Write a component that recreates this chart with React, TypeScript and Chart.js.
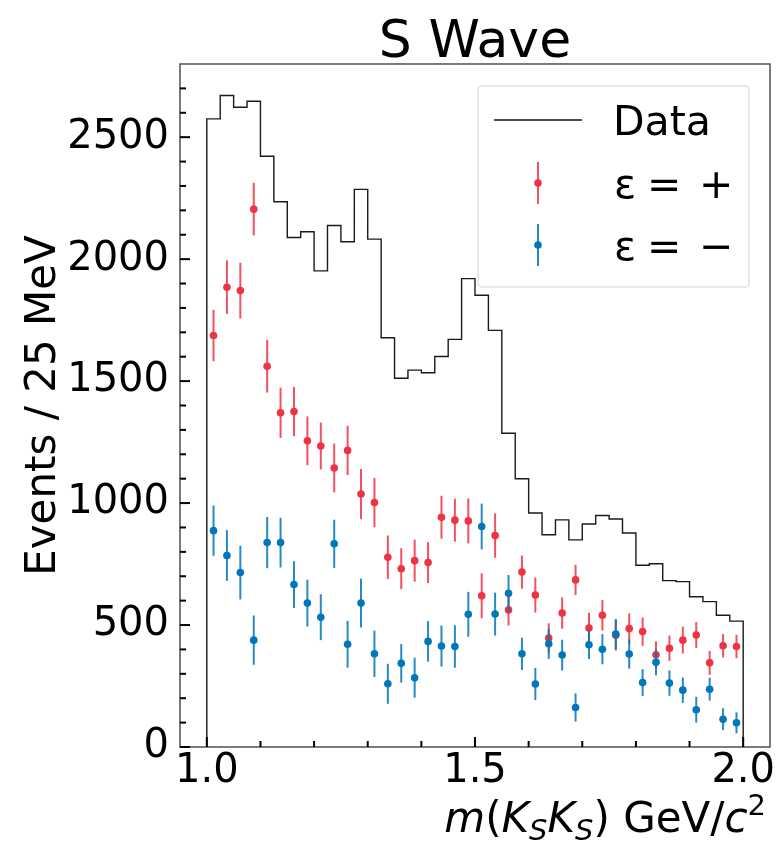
import React, { useEffect, useRef } from 'react';
import { Chart, registerables } from 'chart.js';

Chart.register(...registerables);

// ---------- data ----------
const binCenters = [
  1.0125, 1.0375, 1.0625, 1.0875, 1.1125, 1.1375, 1.1625, 1.1875, 1.2125, 1.2375,
  1.2625, 1.2875, 1.3125, 1.3375, 1.3625, 1.3875, 1.4125, 1.4375, 1.4625, 1.4875,
  1.5125, 1.5375, 1.5625, 1.5875, 1.6125, 1.6375, 1.6625, 1.6875, 1.7125, 1.7375,
  1.7625, 1.7875, 1.8125, 1.8375, 1.8625, 1.8875, 1.9125, 1.9375, 1.9625, 1.9875,
];
const binHalfWidth = 0.0125;

const dataCounts = [
  2575, 2671, 2623, 2647, 2422, 2235, 2089, 2112, 1952, 2138,
  2071, 2286, 2082, 1678, 1512, 1545, 1534, 1601, 1671, 1920,
  1852, 1708, 1286, 1100, 959, 870, 931, 849, 914, 949,
  935, 877, 745, 751, 682, 678, 616, 596, 540, 516,
];

const plusValues = [
  1687, 1885, 1871, 2205, 1561, 1370, 1375, 1255, 1234, 1144,
  1216, 1037, 1002, 778, 731, 764, 756, 942, 930, 927,
  620, 867, 562, 717, 623, 447, 549, 685, 488, 540,
  458, 486, 473, 378, 405, 438, 459, 345, 415, 412,
];
const plusErrors = [
  105, 110, 114, 108, 108, 103, 101, 100, 96, 100,
  101, 103, 101, 89, 84, 86, 84, 88, 88, 92,
  92, 91, 64, 68, 72, 60, 64, 62, 62, 63,
  63, 62, 58, 55, 52, 55, 53, 49, 48, 48,
];

const minusValues = [
  887, 785, 715, 438, 838, 838, 666, 590, 532, 833,
  421, 590, 382, 259, 343, 284, 433, 414, 412, 544,
  904, 545, 630, 382, 258, 423, 377, 162, 419, 401,
  463, 381, 264, 347, 262, 233, 153, 237, 114, 99,
];
const minusErrors = [
  103, 104, 110, 101, 105, 102, 96, 96, 94, 99,
  96, 100, 95, 82, 79, 82, 83, 84, 87, 92,
  94, 88, 75, 66, 66, 62, 63, 58, 58, 62,
  62, 60, 55, 53, 52, 52, 53, 47, 45, 43,
];

const xTickValues = [1.0, 1.5, 2.0];
const xMinorTickValues = [1.1, 1.2, 1.3, 1.4, 1.6, 1.7, 1.8, 1.9];
const yTickValues = [0, 500, 1000, 1500, 2000, 2500];
const yMinorTickValues = [
  100, 200, 300, 400, 600, 700, 800, 900, 1100, 1200, 1300, 1400,
  1600, 1700, 1800, 1900, 2100, 2200, 2300, 2400, 2600, 2700,
];

const titleText = 'S Wave';
const yLabelText = 'Events / 25 MeV';
const legendLabels = ['Data', 'ε', '=', '+', '−'];

const RED = '#EE3344';
const RED_BAR = 'rgba(238,51,68,0.85)';
const BLUE = '#0077BB';
const BLUE_BAR = 'rgba(0,119,187,0.85)';
const FONT = '"DejaVu Sans", sans-serif';

// ---------- plugin ----------
const decorPlugin = {
  id: 'decor',
  beforeDatasetDraw(chart: any, args: any) {
    const ds = chart.data.datasets[args.index];
    if (!ds.errors) return;
    const ctx = chart.ctx;
    const xs = chart.scales.x;
    const ys = chart.scales.y;
    ctx.save();
    ctx.strokeStyle = ds.errorColor;
    ctx.lineWidth = 2;
    ds.data.forEach((p: any, i: number) => {
      const px = xs.getPixelForValue(p.x);
      ctx.beginPath();
      ctx.moveTo(px, ys.getPixelForValue(p.y - ds.errors[i]));
      ctx.lineTo(px, ys.getPixelForValue(p.y + ds.errors[i]));
      ctx.stroke();
    });
    ctx.restore();
  },
  afterDraw(chart: any) {
    const ctx = chart.ctx;
    const { left, right, top, bottom } = chart.chartArea;
    const xs = chart.scales.x;
    const ys = chart.scales.y;
    ctx.save();

    // frame
    ctx.strokeStyle = 'rgba(0,0,0,0.65)';
    ctx.lineWidth = 1.6;
    ctx.strokeRect(left, top, right - left, bottom - top);

    // ticks (inward, left & bottom)
    ctx.strokeStyle = '#000';
    ctx.lineWidth = 2;
    const tick = (x1: number, y1: number, x2: number, y2: number) => {
      ctx.beginPath();
      ctx.moveTo(x1, y1);
      ctx.lineTo(x2, y2);
      ctx.stroke();
    };
    xTickValues.forEach((v) => {
      const px = xs.getPixelForValue(v);
      tick(px, bottom, px, bottom - 10);
    });
    xMinorTickValues.forEach((v) => {
      const px = xs.getPixelForValue(v);
      tick(px, bottom, px, bottom - 6);
    });
    yTickValues.forEach((v) => {
      const py = ys.getPixelForValue(v);
      tick(left, py, left + 10, py);
    });
    yMinorTickValues.forEach((v) => {
      const py = ys.getPixelForValue(v);
      tick(left, py, left + 6, py);
    });

    // title
    ctx.fillStyle = '#000';
    ctx.font = `52px ${FONT}`;
    ctx.textAlign = 'center';
    ctx.textBaseline = 'alphabetic';
    ctx.fillText(titleText, (left + right) / 2, 57);

    // y label
    ctx.save();
    ctx.translate(55, (top + bottom) / 2);
    ctx.rotate(-Math.PI / 2);
    ctx.font = `42px ${FONT}`;
    ctx.textAlign = 'center';
    ctx.fillText(yLabelText, 0, 0);
    ctx.restore();

    // x label with rich text
    const base = 42;
    const small = 29;
    const segs = [
      { t: 'm', it: true, s: base, dy: 0 },
      { t: '(', it: false, s: base, dy: 0 },
      { t: 'K', it: true, s: base, dy: 0 },
      { t: 'S', it: true, s: small, dy: 8 },
      { t: 'K', it: true, s: base, dy: 0 },
      { t: 'S', it: true, s: small, dy: 8 },
      { t: ')', it: false, s: base, dy: 0 },
      { t: ' GeV/', it: false, s: base, dy: 0 },
      { t: 'c', it: true, s: base, dy: 0 },
      { t: '2', it: false, s: small, dy: -17 },
    ];
    ctx.textAlign = 'left';
    let total = 0;
    const widths = segs.map((sg) => {
      ctx.font = `${sg.it ? 'italic ' : ''}${sg.s}px ${FONT}`;
      const w = ctx.measureText(sg.t).width;
      total += w;
      return w;
    });
    let cx = right - 4 - total;
    const xlBase = 832;
    segs.forEach((sg, i) => {
      ctx.font = `${sg.it ? 'italic ' : ''}${sg.s}px ${FONT}`;
      ctx.fillText(sg.t, cx, xlBase + sg.dy);
      cx += widths[i];
    });

    // legend
    const lx = 478, ly = 86, lw = 271, lh = 201;
    ctx.beginPath();
    const r = 4;
    ctx.moveTo(lx + r, ly);
    ctx.lineTo(lx + lw - r, ly);
    ctx.quadraticCurveTo(lx + lw, ly, lx + lw, ly + r);
    ctx.lineTo(lx + lw, ly + lh - r);
    ctx.quadraticCurveTo(lx + lw, ly + lh, lx + lw - r, ly + lh);
    ctx.lineTo(lx + r, ly + lh);
    ctx.quadraticCurveTo(lx, ly + lh, lx, ly + lh - r);
    ctx.lineTo(lx, ly + r);
    ctx.quadraticCurveTo(lx, ly, lx + r, ly);
    ctx.closePath();
    ctx.fillStyle = 'rgba(255,255,255,0.85)';
    ctx.fill();
    ctx.strokeStyle = '#e2e2e2';
    ctx.lineWidth = 1.5;
    ctx.stroke();

    // Data line
    ctx.strokeStyle = '#111';
    ctx.lineWidth = 1.5;
    tick(494, 120, 582, 120);
    // markers
    const marker = (y: number, col: string, bar: string) => {
      ctx.strokeStyle = bar;
      ctx.lineWidth = 2;
      tick(538, y - 21, 538, y + 21);
      ctx.fillStyle = col;
      ctx.beginPath();
      ctx.arc(538, y, 3.8, 0, Math.PI * 2);
      ctx.fill();
    };
    marker(183, RED, RED_BAR);
    marker(245, BLUE, BLUE_BAR);

    ctx.fillStyle = '#000';
    ctx.font = `41px ${FONT}`;
    ctx.textAlign = 'left';
    ctx.fillText(legendLabels[0], 613, 135);
    const row = (yb: number, sign: string) => {
      ctx.font = `41px ${FONT}`;
      ctx.fillText(legendLabels[1], 614, yb);
      ctx.fillText(legendLabels[2], 647, yb);
      ctx.fillText(sign, 699, yb);
    };
    row(198, legendLabels[3]);
    row(260, legendLabels[4]);

    ctx.restore();
  },
};

export default function App() {
  const ref = useRef<HTMLCanvasElement | null>(null);

  useEffect(() => {
    document.body.style.margin = '0';
    const canvas = ref.current;
    if (!canvas) return;

    const histPoints: { x: number; y: number }[] = [
      { x: binCenters[0] - binHalfWidth, y: 0 },
    ];
    binCenters.forEach((c, i) => histPoints.push({ x: c + binHalfWidth, y: dataCounts[i] }));
    histPoints.push({ x: binCenters[binCenters.length - 1] + binHalfWidth, y: 0 });

    const chart = new Chart(canvas, {
      type: 'scatter',
      data: {
        datasets: [
          {
            label: 'ε = −',
            data: binCenters.map((c, i) => ({ x: c, y: minusValues[i] })),
            backgroundColor: BLUE,
            borderWidth: 0,
            pointRadius: 3.8,
            errors: minusErrors,
            errorColor: BLUE_BAR,
          } as any,
          {
            label: 'ε = +',
            data: binCenters.map((c, i) => ({ x: c, y: plusValues[i] })),
            backgroundColor: RED,
            borderWidth: 0,
            pointRadius: 3.8,
            errors: plusErrors,
            errorColor: RED_BAR,
          } as any,
          {
            label: 'Data',
            data: histPoints,
            showLine: true,
            stepped: 'after',
            borderColor: '#1a1a1a',
            borderWidth: 1.4,
            pointRadius: 0,
            fill: false,
          } as any,
        ],
      },
      options: {
        animation: false,
        responsive: false,
        devicePixelRatio: 1,
        events: [],
        layout: { padding: { left: 0, right: 7, top: 64, bottom: 0 } },
        plugins: {
          legend: { display: false },
          tooltip: { enabled: false },
          title: { display: false },
        },
        scales: {
          x: {
            type: 'linear',
            min: 0.95,
            max: 2.05,
            grid: { display: false, drawTicks: false },
            border: { display: false },
            afterBuildTicks: (scale: any) => {
              scale.ticks = xTickValues.map((v) => ({ value: v }));
            },
            afterFit: (scale: any) => {
              scale.height = 95;
            },
            ticks: {
              autoSkip: false,
              maxRotation: 0,
              padding: 1,
              color: '#000',
              font: { family: FONT, size: 40 },
              callback: (v: any) => Number(v).toFixed(1),
            },
          },
          y: {
            type: 'linear',
            min: 0,
            max: 2800,
            grid: { display: false, drawTicks: false },
            border: { display: false },
            afterBuildTicks: (scale: any) => {
              scale.ticks = yTickValues.map((v) => ({ value: v }));
            },
            afterFit: (scale: any) => {
              scale.width = 180;
            },
            ticks: {
              autoSkip: false,
              padding: 11,
              color: '#000',
              font: { family: FONT, size: 40 },
              callback: (v: any) => String(v),
            },
          },
        },
      } as any,
      plugins: [decorPlugin],
    });

    return () => chart.destroy();
  }, []);

  return (
    <div style={{ width: 777, height: 842 }}>
      <canvas ref={ref} width={777} height={842} style={{ display: 'block' }} />
    </div>
  );
}
